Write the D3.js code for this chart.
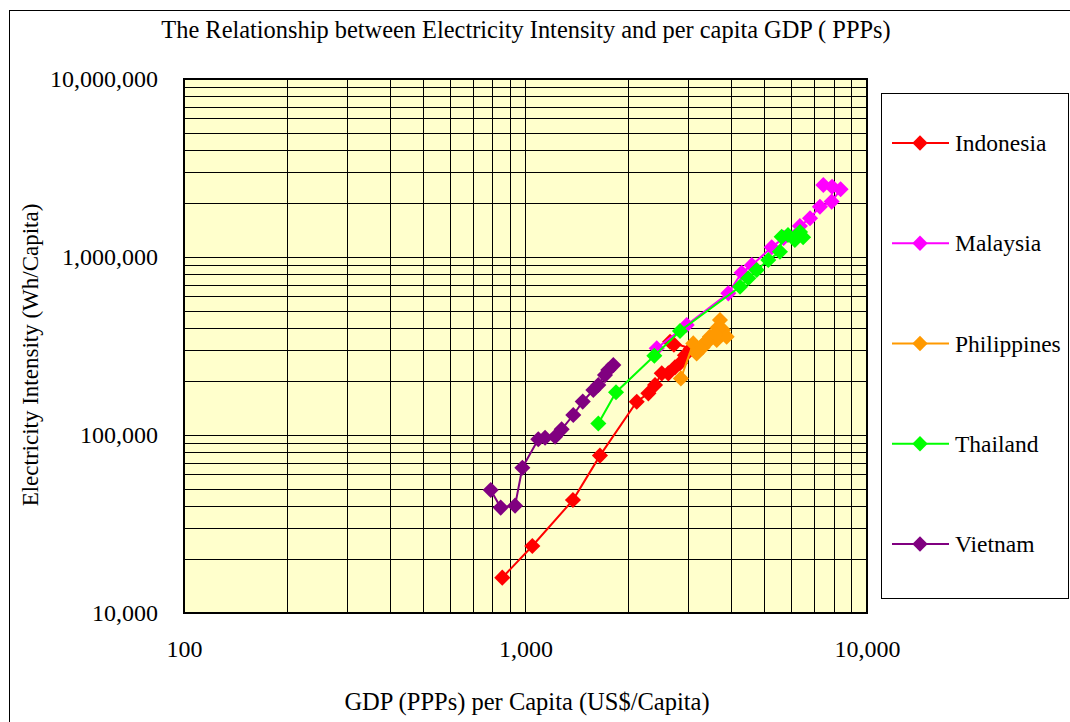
<!DOCTYPE html>
<html>
<head>
<meta charset="utf-8">
<script src="https://cdn.jsdelivr.net/npm/d3@7/dist/d3.min.js"></script>
<style>
  html, body { margin: 0; padding: 0; background: #ffffff; }
  svg { display: block; }
  text { font-family: "Liberation Serif", "Times New Roman", serif; fill: #000; }
</style>
</head>
<body>
<div id="chart"></div>
<script>
// GDP (PPPs) per capita, US$/capita, and electricity intensity, Wh/capita
const countries = ["Indonesia", "Malaysia", "Philippines", "Thailand", "Vietnam"];
const colors = ["#ff0000", "#ff00ff", "#ff9900", "#00ff00", "#800080"];

const indonesiaGdp = [855, 1047, 1377, 1652, 2117, 2290, 2395, 2506, 2620, 2740, 2833, 2930, 3050, 2650, 2720];
const indonesiaElec = [15800, 23800, 43100, 76600, 153900, 171400, 190800, 222000, 222000, 240000, 253000, 281000, 305000, 334000, 322000];

const malaysiaGdp = [2423, 2965, 3926, 4296, 4600, 5260, 5700, 6360, 6810, 7280, 7880, 8370, 7450, 7900];
const malaysiaElec = [307000, 415000, 625000, 816000, 900000, 1134000, 1280000, 1493000, 1650000, 1917000, 2047000, 2400000, 2537000, 2480000];

const philippinesGdp = [2851, 3099, 3171, 3310, 3467, 3631, 3711, 3788, 3882, 3650, 3350, 3200, 3300, 3450, 3600];
const philippinesElec = [208000, 327000, 287000, 320000, 357000, 342000, 443000, 389000, 357000, 400000, 330000, 300000, 310000, 340000, 370000];

const thailandGdp = [1634, 1841, 2384, 2834, 4248, 4491, 4753, 5140, 5560, 5625, 5870, 6366, 6150, 6500];
const thailandElec = [116000, 174000, 279000, 384000, 681000, 759000, 845000, 961000, 1071000, 1300000, 1330000, 1380000, 1247000, 1290000];

const vietnamGdp = [791, 846, 932, 979, 1090, 1141, 1221, 1276, 1380, 1471, 1580, 1634, 1709, 1747, 1808];
const vietnamElec = [49100, 39100, 40100, 65500, 94600, 96600, 97800, 107600, 129500, 154000, 179000, 191000, 217000, 232000, 247000];

const xTickValues = [100, 1000, 10000];
const yTickValues = [10000, 100000, 1000000, 10000000];

const chartTitle = "The Relationship between Electricity Intensity and per capita GDP ( PPPs)";
const xTitle = "GDP (PPPs) per Capita (US$/Capita)";
const yTitle = "Electricity Intensity (Wh/Capita)";

const seriesGdp = [indonesiaGdp, malaysiaGdp, philippinesGdp, thailandGdp, vietnamGdp];
const seriesElec = [indonesiaElec, malaysiaElec, philippinesElec, thailandElec, vietnamElec];
const series = countries.map((name, i) => ({
  name, color: colors[i],
  points: seriesGdp[i].map((g, j) => ({ x: g, y: seriesElec[i][j] }))
}));

const W = 1070, H = 722;
const plot = { left: 184, top: 79, right: 867, bottom: 613 };

const svg = d3.select("#chart").append("svg").attr("width", W).attr("height", H);

// outer chart frame
svg.append("rect").attr("x", 9.5).attr("y", 10.5).attr("width", 1100).attr("height", 760)
  .attr("fill", "#fff").attr("stroke", "#000").attr("stroke-width", 1);

const x = d3.scaleLog().domain([100, 10000]).range([plot.left, plot.right]);
const y = d3.scaleLog().domain([10000, 10000000]).range([plot.bottom, plot.top]);

// plot background
svg.append("rect").attr("x", plot.left).attr("y", plot.top)
  .attr("width", plot.right - plot.left).attr("height", plot.bottom - plot.top)
  .attr("fill", "#ffffcc");

// major and minor log gridlines
function logLines(domain) {
  const out = [];
  for (let p = Math.log10(domain[0]); p < Math.log10(domain[1]); p++) {
    for (let k = 1; k <= 9; k++) out.push(k * Math.pow(10, p));
  }
  out.push(domain[1]);
  return out;
}
const grid = svg.append("g").attr("stroke", "#000").attr("stroke-width", 1).attr("shape-rendering", "crispEdges");
grid.selectAll("line.v").data(logLines(x.domain())).join("line").attr("class", "v")
  .attr("x1", d => Math.round(x(d)) + 0.5).attr("x2", d => Math.round(x(d)) + 0.5)
  .attr("y1", plot.top).attr("y2", plot.bottom);
grid.selectAll("line.h").data(logLines(y.domain())).join("line").attr("class", "h")
  .attr("y1", d => Math.round(y(d)) + 0.5).attr("y2", d => Math.round(y(d)) + 0.5)
  .attr("x1", plot.left).attr("x2", plot.right);

// plot border
svg.append("rect").attr("x", plot.left).attr("y", plot.top)
  .attr("width", plot.right - plot.left).attr("height", plot.bottom - plot.top)
  .attr("fill", "none").attr("stroke", "#000").attr("stroke-width", 2);

// axes
const fmt = d3.format(",");
const xAxis = svg.append("g").attr("transform", `translate(0,${plot.bottom})`)
  .call(d3.axisBottom(x).tickValues(xTickValues).tickFormat(fmt).tickSize(0).tickPadding(27));
const yAxis = svg.append("g").attr("transform", `translate(${plot.left},0)`)
  .call(d3.axisLeft(y).tickValues(yTickValues).tickFormat(fmt).tickSize(0).tickPadding(26));
[xAxis, yAxis].forEach(a => {
  a.select(".domain").remove();
  a.selectAll("text").attr("font-size", 24).attr("font-family", "Liberation Serif, serif");
});

// series lines and diamond markers
const line = d3.line().x(d => x(d.x)).y(d => y(d.y));
const diamond = d3.symbol().type(d3.symbolDiamond2).size(165);
const sg = svg.append("g");
series.forEach(s => {
  const g = sg.append("g");
  g.append("path").attr("d", line(s.points)).attr("fill", "none")
    .attr("stroke", s.color).attr("stroke-width", 2);
  g.selectAll("path.m").data(s.points).join("path").attr("class", "m")
    .attr("d", diamond).attr("fill", s.color)
    .attr("transform", d => `translate(${x(d.x)},${y(d.y)})`);
});

// titles
svg.append("text").attr("x", 526).attr("y", 38).attr("text-anchor", "middle")
  .attr("font-size", 24.4).text(chartTitle);
svg.append("text").attr("x", 527).attr("y", 710).attr("text-anchor", "middle")
  .attr("font-size", 24.5).text(xTitle);
svg.append("text").attr("transform", "translate(38,355) rotate(-90)").attr("text-anchor", "middle")
  .attr("font-size", 23).text(yTitle);

// legend
const legend = svg.append("g");
legend.append("rect").attr("x", 881.5).attr("y", 93.5).attr("width", 187).attr("height", 505)
  .attr("fill", "#fff").attr("stroke", "#000").attr("stroke-width", 1);
const legendY = d3.scalePoint().domain(countries).range([143, 544]);
const legendDiamond = d3.symbol().type(d3.symbolDiamond2).size(150);
series.forEach(s => {
  const ly = legendY(s.name);
  legend.append("line").attr("x1", 892).attr("x2", 949).attr("y1", ly).attr("y2", ly)
    .attr("stroke", s.color).attr("stroke-width", 2);
  legend.append("path").attr("d", legendDiamond).attr("fill", s.color)
    .attr("transform", `translate(920,${ly})`);
  legend.append("text").attr("x", 955).attr("y", ly + 8).attr("font-size", 23.5).text(s.name);
});
</script>
</body>
</html>
